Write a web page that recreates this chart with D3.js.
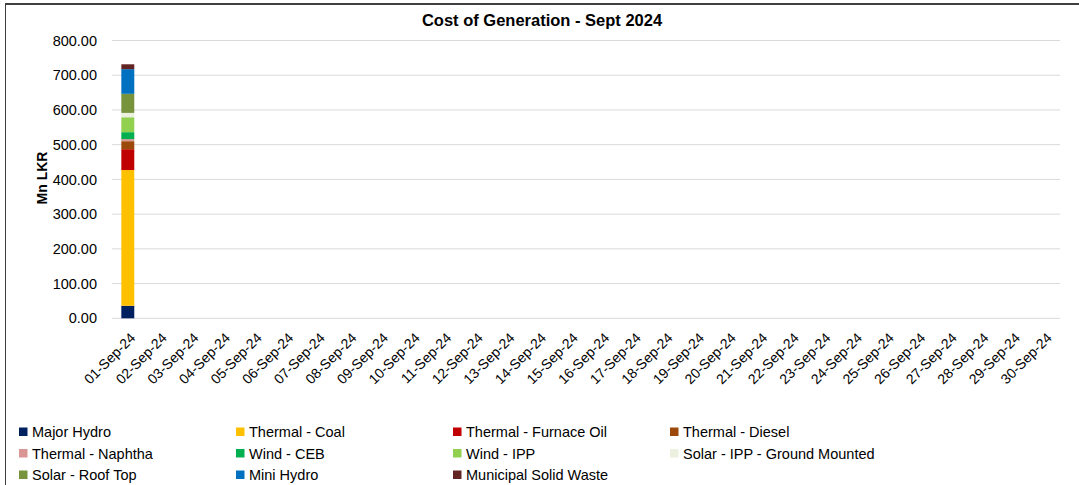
<!DOCTYPE html>
<html>
<head>
<meta charset="utf-8">
<script src="https://cdn.jsdelivr.net/npm/d3@7"></script>
<style>
  body { margin: 0; background: #fff; }
  svg { display: block; font-family: 'Liberation Sans', Arial, sans-serif; }
</style>
</head>
<body>
<main></main>
<script>
const width = 1079;
const height = 485;

// data: only 01-Sep-24 has values so far, in Mn LKR
const days = d3.range(1, 31).map(d => `${String(d).padStart(2, '0')}-Sep-24`);
const seriesNames = ['Major Hydro', 'Thermal - Coal', 'Thermal - Furnace Oil', 'Thermal - Diesel',
  'Thermal - Naphtha', 'Wind - CEB', 'Wind - IPP', 'Solar - IPP - Ground Mounted',
  'Solar - Roof Top', 'Mini Hydro', 'Municipal Solid Waste'];
const majorHydro = [36];
const thermalCoal = [391];
const furnaceOil = [60];
const diesel = [23];
const naphtha = [6];
const windCeb = [20];
const windIpp = [43];
const solarGround = [12.5];
const solarRoof = [55];
const miniHydro = [71];
const msw = [14];
const yTicks = [0, 100, 200, 300, 400, 500, 600, 700, 800];
const colors = ['#002060', '#ffc000', '#c00000', '#9c4a0b', '#da9694', '#00b050',
  '#92d050', '#ebf1de', '#77933c', '#0070c0', '#632523'];

const seriesValues = [majorHydro, thermalCoal, furnaceOil, diesel, naphtha, windCeb,
  windIpp, solarGround, solarRoof, miniHydro, msw];

const table = days.map((day, i) => {
  const row = { day };
  seriesNames.forEach((name, j) => { row[name] = seriesValues[j][i] ?? 0 });
  return row;
});

const stacked = d3.stack().keys(seriesNames)(table);

const xScale = d3.scaleBand()
  .domain(days)
  .range([112, 1060])
  .paddingInner(0.59)
  .paddingOuter(0.295);

const yScale = d3.scaleLinear()
  .domain([0, 800])
  .range([318.3, 40.5]);

const svg = d3.select('main')
  .append('svg')
  .attr('width', width)
  .attr('height', height);

// chart frame (top and left edges visible)
svg.append('line')
  .attr('x1', 5).attr('x2', width).attr('y1', 4).attr('y2', 4)
  .style('stroke', '#404040').style('stroke-width', 2);
svg.append('line')
  .attr('x1', 5.5).attr('x2', 5.5).attr('y1', 4).attr('y2', height)
  .style('stroke', '#404040').style('stroke-width', 1);

// Title
svg.append('text')
  .text('Cost of Generation - Sept 2024')
  .attr('x', 542)
  .attr('y', 26)
  .style('text-anchor', 'middle')
  .style('font-weight', 'bold')
  .style('font-size', '16.5px')
  .style('fill', '#000');

// gridlines
svg.append('g')
  .selectAll('line')
  .data(yTicks)
  .enter()
  .append('line')
  .attr('x1', 112)
  .attr('x2', 1060)
  .attr('y1', d => yScale(d))
  .attr('y2', d => yScale(d))
  .style('stroke', '#d9d9d9')
  .style('stroke-width', 1);

// y-axis
const yAxis = svg.append('g')
  .attr('transform', 'translate(112, 0)')
  .call(d3.axisLeft(yScale).tickValues(yTicks).tickFormat(d3.format('.2f')).tickSize(0).tickPadding(15));
yAxis.select('.domain').remove();
yAxis.selectAll('text')
  .style('font-size', '14.5px')
  .style('font-family', "'Liberation Sans', Arial, sans-serif")
  .style('fill', '#000');

// y label
svg.append('text')
  .text('Mn LKR')
  .attr('transform', 'translate(47, 178) rotate(-90)')
  .style('text-anchor', 'middle')
  .style('font-weight', 'bold')
  .style('font-size', '14px')
  .style('fill', '#000');

// x-axis
const xAxis = svg.append('g')
  .attr('transform', 'translate(0, 318.3)')
  .call(d3.axisBottom(xScale).tickSize(0));
xAxis.select('.domain').remove();
xAxis.selectAll('text')
  .attr('x', 0)
  .attr('y', 0)
  .attr('dy', '0.35em')
  .attr('transform', 'translate(5, 17) rotate(-45)')
  .style('text-anchor', 'end')
  .style('font-size', '14px')
  .style('font-family', "'Liberation Sans', Arial, sans-serif")
  .style('fill', '#000');

// bars
svg.append('g')
  .selectAll('g')
  .data(stacked)
  .enter()
  .append('g')
  .style('fill', (d, i) => colors[i])
  .selectAll('rect')
  .data(d => d.filter(p => p[1] > p[0]))
  .enter()
  .append('rect')
  .attr('x', d => xScale(d.data.day))
  .attr('y', d => yScale(d[1]))
  .attr('width', xScale.bandwidth())
  .attr('height', d => yScale(d[0]) - yScale(d[1]));

// Legend
const legend = svg.append('g');
const items = legend.selectAll('g')
  .data(seriesNames)
  .enter()
  .append('g')
  .attr('transform', (d, i) => `translate(${19 + (i % 4) * 217}, ${432 + Math.floor(i / 4) * 21.5})`);

items.append('rect')
  .attr('x', 0)
  .attr('y', -4.5)
  .attr('width', 8.5)
  .attr('height', 8.5)
  .style('fill', (d, i) => colors[i]);

items.append('text')
  .text(d => d)
  .attr('x', 13)
  .attr('y', 0)
  .attr('dy', '0.35em')
  .style('font-size', '14.5px')
  .style('fill', '#000');
</script>
</body>
</html>
